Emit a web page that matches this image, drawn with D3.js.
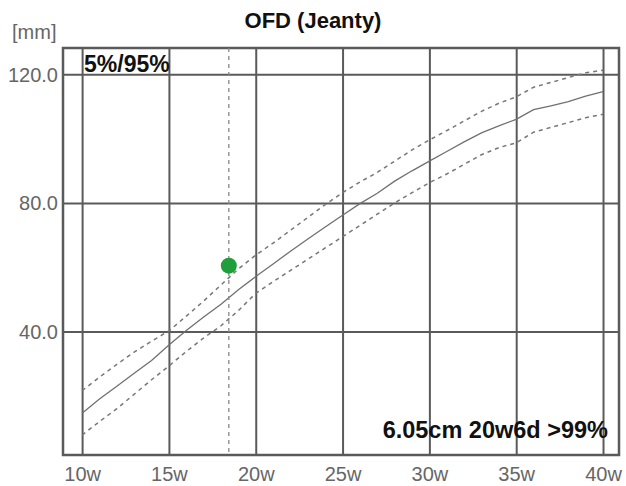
<!DOCTYPE html>
<html>
<head>
<meta charset="utf-8">
<script src="https://cdn.jsdelivr.net/npm/d3@7"></script>
<style>
  body { margin: 0; background: #fff; }
  svg { font-family: "Liberation Sans", Arial, sans-serif; }
</style>
</head>
<body>
<svg id="chart"></svg>
<script>
// gestational age in weeks
const weeks = [10,11,12,13,14,15,16,17,18,19,20,21,22,23,24,25,26,27,28,29,30,31,32,33,34,35,36,37,38,39,40];
// OFD mean and 5% / 95% limits, mm
const ofdMean = [14.6,19.0,23.0,27.0,31.0,35.8,40.3,44.5,48.5,53.0,57.1,61.0,65.0,68.8,72.5,76.2,79.8,83.0,86.8,90.0,93.0,96.0,99.0,101.8,104.0,106.0,109.0,110.2,111.5,113.2,114.6];
const ofd95 = [21.6,25.8,29.8,33.6,37.0,40.2,44.8,49.5,54.5,59.5,63.8,67.5,71.5,75.5,79.5,83.2,86.5,89.5,93.0,96.5,99.6,102.5,105.5,108.5,111.0,113.0,116.0,117.5,119.0,120.5,121.3];
const ofd5 = [7.8,12.0,16.0,20.5,25.0,29.3,33.8,38.0,41.8,46.5,51.9,55.5,59.0,62.5,66.0,69.5,73.0,76.5,80.0,83.2,86.3,89.0,92.0,95.0,97.2,98.7,102.0,103.5,105.0,106.5,107.6];

const xTicks = [10,15,20,25,30,35,40];
const yTicks = [40,80,120];

// the measurement
const measuredWeek = 18.45;
const measuredValue = 60.5;

const width = 626, height = 486;
const plot = {left: 63, right: 619, top: 48, bottom: 455};

const svg = d3.select("#chart")
    .attr("width", width)
    .attr("height", height);

const x = d3.scaleLinear()
    .domain([8.9, 40.92])
    .range([plot.left, plot.right]);

const y = d3.scaleLinear()
    .domain([1.6, 128.2])
    .range([plot.bottom, plot.top]);

// vertical grid + week labels
const xAxis = svg.append("g")
    .attr("transform", `translate(0,${plot.bottom})`)
    .call(d3.axisBottom(x)
        .tickValues(xTicks)
        .tickFormat(d => d + "w")
        .tickSize(-(plot.bottom - plot.top))
        .tickPadding(8));
xAxis.select(".domain").remove();
xAxis.selectAll("line").attr("stroke", "#5a5a5a").attr("stroke-width", 2);
xAxis.selectAll("text")
    .attr("fill", "#666")
    .attr("font-size", 20)
    .attr("dy", "0.88em");

// horizontal grid + mm labels
const yAxis = svg.append("g")
    .attr("transform", `translate(${plot.left},0)`)
    .call(d3.axisLeft(y)
        .tickValues(yTicks)
        .tickFormat(d3.format(".1f"))
        .tickSize(-(plot.right - plot.left))
        .tickPadding(5));
yAxis.select(".domain").remove();
yAxis.selectAll("line").attr("stroke", "#5a5a5a").attr("stroke-width", 2);
yAxis.selectAll("text")
    .attr("fill", "#666")
    .attr("font-size", 20)
    .attr("dy", "0.35em");

// frame
svg.append("rect")
    .attr("x", plot.left)
    .attr("y", plot.top)
    .attr("width", plot.right - plot.left)
    .attr("height", plot.bottom - plot.top)
    .attr("fill", "none")
    .attr("stroke", "#5a5a5a")
    .attr("stroke-width", 2.5);

// curves
const line = d3.line()
    .x((d, i) => x(weeks[i]))
    .y(d => y(d));

svg.append("path")
    .datum(ofd95)
    .attr("d", line)
    .attr("fill", "none")
    .attr("stroke", "#777")
    .attr("stroke-width", 1.5)
    .attr("stroke-dasharray", "4,4");

svg.append("path")
    .datum(ofd5)
    .attr("d", line)
    .attr("fill", "none")
    .attr("stroke", "#777")
    .attr("stroke-width", 1.5)
    .attr("stroke-dasharray", "4,4");

svg.append("path")
    .datum(ofdMean)
    .attr("d", line)
    .attr("fill", "none")
    .attr("stroke", "#707070")
    .attr("stroke-width", 1.3);

// measurement marker
svg.append("line")
    .attr("x1", x(measuredWeek))
    .attr("x2", x(measuredWeek))
    .attr("y1", plot.top)
    .attr("y2", plot.bottom)
    .attr("stroke", "#888")
    .attr("stroke-width", 1.3)
    .attr("stroke-dasharray", "4,4");

svg.append("circle")
    .attr("cx", x(measuredWeek))
    .attr("cy", y(measuredValue))
    .attr("r", 8)
    .attr("fill", "#1f9e3c");

// texts
svg.append("text")
    .attr("x", 313)
    .attr("y", 28)
    .attr("text-anchor", "middle")
    .attr("font-size", 22)
    .attr("font-weight", "bold")
    .attr("fill", "#111")
    .text("OFD (Jeanty)");

svg.append("text")
    .attr("x", 12)
    .attr("y", 39)
    .attr("font-size", 20)
    .attr("fill", "#666")
    .text("[mm]");

svg.append("text")
    .attr("x", 84)
    .attr("y", 72)
    .attr("font-size", 23)
    .attr("font-weight", "bold")
    .attr("fill", "#111")
    .text("5%/95%");

svg.append("text")
    .attr("x", 608)
    .attr("y", 438)
    .attr("text-anchor", "end")
    .attr("font-size", 23.5)
    .attr("font-weight", "bold")
    .attr("fill", "#111")
    .text("6.05cm 20w6d >99%");
</script>
</body>
</html>
